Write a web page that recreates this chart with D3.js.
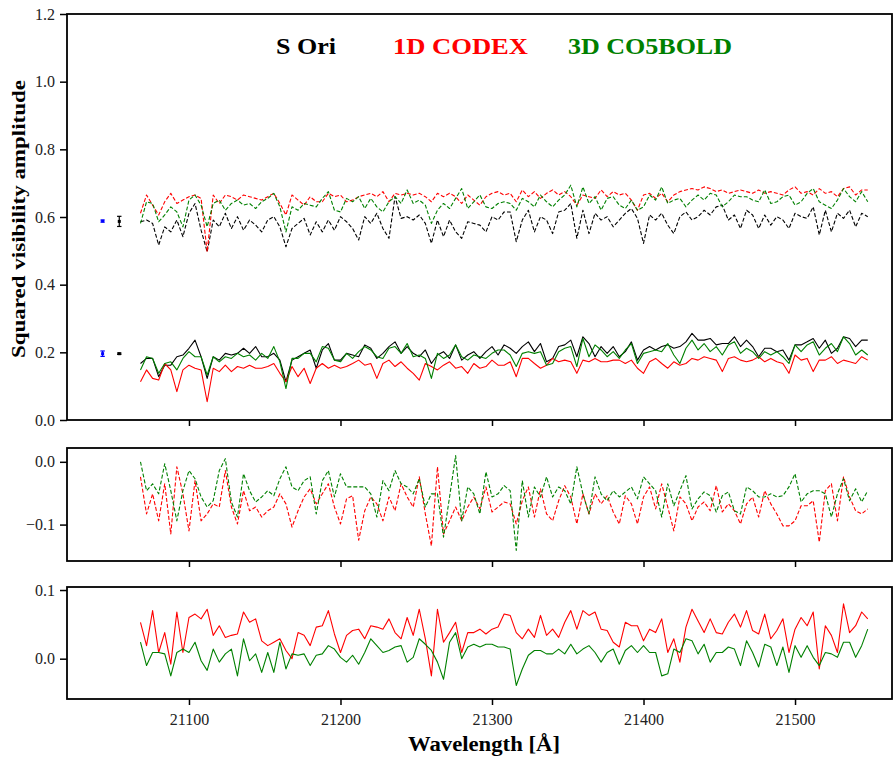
<!DOCTYPE html>
<html><head><meta charset="utf-8">
<script src="https://cdn.jsdelivr.net/npm/d3@7"></script>
<style>body{margin:0;background:#fff} svg{display:block} text{font-family:'Liberation Serif','DejaVu Serif',serif}</style>
</head><body>
<svg id="c" width="893" height="758"></svg>
<script>
// ---------- data ----------
const wavelengths = [21068,21072,21076,21080,21084,21088,21092,21096,21100,21104,
21108,21112,21116,21120,21124,21128,21132,21136,21140,21144,
21148,21152,21156,21160,21164,21168,21172,21176,21180,21184,
21188,21192,21196,21200,21204,21208,21212,21216,21220,21224,
21228,21232,21236,21240,21244,21248,21252,21256,21260,21264,
21268,21272,21276,21280,21284,21288,21292,21296,21300,21304,
21308,21312,21316,21320,21324,21328,21332,21336,21340,21344,
21348,21352,21356,21360,21364,21368,21372,21376,21380,21384,
21388,21392,21396,21400,21404,21408,21412,21416,21420,21424,
21428,21432,21436,21440,21444,21448,21452,21456,21460,21464,
21468,21472,21476,21480,21484,21488,21492,21496,21500,21504,
21508,21512,21516,21520,21524,21528,21532,21536,21540,21544,
21548];

// observed S Ori, long baseline (dashed) and short baseline (solid)
const obsHigh = [0.586,0.591,0.581,0.517,0.571,0.556,0.591,0.542,0.611,0.640,
0.561,0.497,0.591,0.571,0.611,0.566,0.601,0.561,0.591,0.576,
0.556,0.591,0.601,0.571,0.512,0.566,0.581,0.596,0.547,0.586,
0.556,0.591,0.561,0.601,0.586,0.566,0.532,0.601,0.581,0.611,
0.566,0.537,0.660,0.596,0.601,0.591,0.606,0.581,0.522,0.591,
0.542,0.591,0.556,0.537,0.586,0.581,0.576,0.556,0.601,0.591,
0.615,0.615,0.527,0.591,0.620,0.556,0.601,0.591,0.551,0.615,
0.620,0.640,0.537,0.620,0.551,0.611,0.591,0.601,0.571,0.591,
0.611,0.625,0.596,0.522,0.606,0.591,0.611,0.576,0.551,0.601,
0.615,0.591,0.601,0.620,0.606,0.630,0.635,0.591,0.606,0.566,
0.620,0.606,0.566,0.606,0.576,0.601,0.591,0.566,0.611,0.601,
0.596,0.630,0.547,0.620,0.556,0.611,0.596,0.620,0.571,0.611,
0.601];
const codexHigh = [0.611,0.665,0.635,0.606,0.645,0.670,0.640,0.650,0.660,0.665,
0.655,0.497,0.665,0.640,0.665,0.660,0.650,0.665,0.660,0.655,
0.650,0.660,0.670,0.640,0.606,0.665,0.650,0.635,0.660,0.645,
0.645,0.670,0.660,0.665,0.645,0.650,0.660,0.665,0.670,0.660,
0.675,0.645,0.670,0.665,0.670,0.665,0.670,0.660,0.645,0.670,
0.660,0.670,0.660,0.640,0.665,0.650,0.635,0.660,0.670,0.675,
0.665,0.670,0.645,0.680,0.660,0.675,0.655,0.670,0.680,0.665,
0.675,0.660,0.635,0.665,0.660,0.655,0.680,0.660,0.675,0.665,
0.670,0.650,0.620,0.665,0.670,0.655,0.670,0.645,0.665,0.675,
0.680,0.684,0.680,0.689,0.684,0.675,0.680,0.670,0.675,0.680,
0.675,0.670,0.680,0.670,0.675,0.670,0.665,0.680,0.689,0.670,
0.675,0.665,0.684,0.670,0.675,0.660,0.684,0.689,0.665,0.680,
0.680];
const co5boldHigh = [0.581,0.645,0.640,0.586,0.606,0.630,0.615,0.571,0.650,0.665,
0.635,0.571,0.640,0.650,0.620,0.640,0.650,0.635,0.640,0.625,
0.645,0.655,0.670,0.630,0.556,0.630,0.620,0.640,0.635,0.630,
0.655,0.675,0.620,0.615,0.655,0.645,0.660,0.625,0.655,0.630,
0.615,0.645,0.660,0.640,0.680,0.640,0.650,0.635,0.581,0.620,
0.640,0.625,0.655,0.684,0.625,0.645,0.665,0.630,0.625,0.640,
0.645,0.640,0.620,0.655,0.645,0.630,0.665,0.645,0.630,0.650,
0.665,0.694,0.630,0.689,0.640,0.660,0.620,0.655,0.660,0.635,
0.625,0.650,0.620,0.630,0.665,0.650,0.689,0.640,0.650,0.655,
0.630,0.650,0.665,0.650,0.670,0.665,0.630,0.645,0.665,0.660,
0.660,0.650,0.645,0.680,0.640,0.645,0.660,0.665,0.635,0.645,
0.670,0.684,0.645,0.635,0.625,0.650,0.684,0.660,0.645,0.675,
0.645];
const obsLow = [0.167,0.182,0.182,0.128,0.162,0.162,0.187,0.192,0.212,0.236,
0.187,0.123,0.187,0.177,0.197,0.192,0.197,0.212,0.197,0.217,
0.187,0.187,0.197,0.177,0.113,0.177,0.187,0.197,0.207,0.153,
0.207,0.226,0.177,0.177,0.197,0.192,0.187,0.222,0.212,0.182,
0.197,0.217,0.231,0.197,0.217,0.197,0.187,0.207,0.167,0.192,
0.202,0.182,0.222,0.177,0.192,0.202,0.182,0.202,0.217,0.192,
0.222,0.212,0.197,0.217,0.231,0.202,0.226,0.172,0.182,0.217,
0.222,0.236,0.187,0.246,0.226,0.187,0.217,0.197,0.217,0.187,
0.202,0.231,0.177,0.207,0.217,0.207,0.217,0.222,0.212,0.217,
0.231,0.256,0.236,0.236,0.241,0.222,0.226,0.226,0.246,0.217,
0.236,0.217,0.187,0.212,0.212,0.202,0.207,0.177,0.222,0.222,
0.231,0.241,0.212,0.236,0.197,0.212,0.246,0.241,0.217,0.236,
0.236];
const codexLow = [0.113,0.148,0.123,0.118,0.167,0.148,0.084,0.148,0.162,0.153,
0.148,0.054,0.153,0.143,0.162,0.143,0.158,0.153,0.162,0.153,
0.153,0.158,0.167,0.138,0.113,0.158,0.128,0.153,0.108,0.153,
0.167,0.153,0.162,0.153,0.158,0.167,0.177,0.162,0.167,0.123,
0.167,0.177,0.158,0.172,0.153,0.138,0.118,0.167,0.158,0.148,
0.162,0.172,0.153,0.158,0.138,0.167,0.153,0.158,0.177,0.162,
0.162,0.172,0.128,0.182,0.182,0.167,0.153,0.162,0.182,0.172,
0.177,0.172,0.138,0.177,0.172,0.182,0.172,0.172,0.177,0.177,
0.167,0.177,0.153,0.138,0.172,0.182,0.167,0.153,0.172,0.162,
0.167,0.182,0.177,0.187,0.182,0.177,0.143,0.182,0.187,0.177,
0.172,0.177,0.187,0.172,0.182,0.172,0.167,0.138,0.192,0.177,
0.182,0.143,0.177,0.177,0.187,0.167,0.177,0.172,0.167,0.187,
0.177];
const co5boldLow = [0.148,0.187,0.182,0.138,0.167,0.172,0.148,0.182,0.202,0.187,
0.187,0.133,0.187,0.172,0.187,0.182,0.197,0.187,0.192,0.177,
0.197,0.182,0.217,0.172,0.093,0.182,0.182,0.197,0.197,0.172,
0.217,0.212,0.177,0.172,0.197,0.182,0.202,0.217,0.207,0.187,
0.182,0.212,0.217,0.197,0.226,0.187,0.192,0.182,0.123,0.197,
0.182,0.192,0.222,0.187,0.177,0.192,0.187,0.182,0.197,0.207,
0.207,0.192,0.158,0.197,0.202,0.197,0.202,0.162,0.167,0.202,
0.212,0.217,0.158,0.241,0.187,0.222,0.207,0.187,0.202,0.182,
0.207,0.226,0.167,0.197,0.202,0.207,0.202,0.226,0.192,0.167,
0.212,0.236,0.207,0.226,0.202,0.217,0.192,0.222,0.231,0.197,
0.212,0.202,0.182,0.202,0.192,0.202,0.187,0.167,0.222,0.202,
0.222,0.231,0.192,0.212,0.226,0.202,0.246,0.226,0.192,0.207,
0.192];
// residuals, long baseline (middle panel)
const codexResHigh = [-0.024,-0.083,-0.051,-0.094,-0.035,-0.115,-0.008,-0.051,-0.110,-0.030,
-0.094,-0.083,-0.067,-0.072,-0.014,-0.072,-0.099,-0.046,-0.078,-0.072,
-0.088,-0.078,-0.072,-0.051,-0.067,-0.104,-0.078,-0.056,-0.043,-0.067,
-0.051,-0.035,-0.072,-0.099,-0.059,-0.054,-0.125,-0.078,-0.056,-0.067,
-0.094,-0.056,-0.078,-0.035,-0.056,-0.072,-0.024,-0.083,-0.134,-0.008,
-0.115,-0.094,-0.072,-0.094,-0.072,-0.056,-0.075,-0.040,-0.080,-0.072,
-0.064,-0.067,-0.099,-0.062,-0.040,-0.088,-0.043,-0.083,-0.094,-0.062,
-0.038,-0.056,-0.099,-0.051,-0.083,-0.051,-0.067,-0.054,-0.080,-0.099,
-0.054,-0.067,-0.099,-0.056,-0.040,-0.075,-0.035,-0.072,-0.110,-0.056,
-0.067,-0.094,-0.072,-0.064,-0.078,-0.038,-0.080,-0.067,-0.078,-0.099,
-0.067,-0.056,-0.088,-0.046,-0.067,-0.083,-0.102,-0.102,-0.094,-0.070,
-0.070,-0.062,-0.128,-0.046,-0.035,-0.094,-0.024,-0.056,-0.078,-0.083,
-0.075];
const co5boldResHigh = [0.000,-0.046,-0.035,-0.051,-0.003,-0.046,-0.094,-0.046,-0.014,-0.027,
-0.056,-0.072,-0.062,-0.014,0.005,-0.064,-0.088,-0.019,-0.046,-0.064,
-0.056,-0.046,-0.054,-0.027,-0.008,-0.040,-0.046,-0.030,-0.024,-0.083,
-0.030,-0.014,-0.056,-0.019,-0.040,-0.040,-0.040,-0.040,-0.051,-0.088,
-0.030,-0.046,-0.014,-0.035,-0.040,-0.051,-0.027,-0.072,-0.051,-0.051,
-0.120,-0.056,0.010,-0.094,-0.040,-0.051,-0.083,-0.016,-0.056,-0.051,
-0.038,-0.046,-0.141,-0.030,-0.088,-0.040,-0.056,-0.024,-0.056,-0.040,
-0.046,-0.067,-0.008,-0.051,-0.083,-0.024,-0.051,-0.062,-0.046,-0.056,
-0.048,-0.040,-0.059,-0.024,-0.035,-0.046,-0.088,-0.035,-0.070,-0.046,
-0.022,-0.075,-0.059,-0.048,-0.054,-0.080,-0.054,-0.048,-0.078,-0.083,
-0.040,-0.046,-0.056,-0.056,-0.051,-0.056,-0.054,-0.040,-0.019,-0.064,
-0.051,-0.046,-0.046,-0.051,-0.088,-0.051,-0.027,-0.062,-0.043,-0.064,
-0.046];
// residuals, short baseline (bottom panel)
const codexResLow = [0.053,0.019,0.070,0.009,0.038,-0.008,0.068,0.009,0.060,0.065,
0.058,0.072,0.034,0.048,0.031,0.034,0.036,0.068,0.053,0.058,
0.026,0.019,0.024,0.029,0.012,0.000,0.038,0.034,0.019,0.046,
0.048,0.070,0.036,0.009,0.034,0.041,0.043,0.029,0.048,0.046,
0.043,0.058,0.038,0.029,0.060,0.034,0.072,0.029,-0.025,0.072,
0.024,0.038,0.053,0.009,0.038,0.038,0.043,0.036,0.043,0.046,
0.065,0.063,0.038,0.029,0.043,0.031,0.063,0.034,0.043,0.031,
0.053,0.070,0.043,0.070,0.063,0.068,0.043,0.041,0.024,0.017,
0.053,0.048,0.048,0.026,0.043,0.038,0.058,0.009,0.029,-0.005,
0.046,0.072,0.055,0.038,0.058,0.038,0.036,0.053,0.065,0.046,
0.070,0.041,0.036,0.065,0.029,0.041,0.058,0.009,0.043,0.060,
0.048,0.068,-0.015,0.048,0.034,0.009,0.080,0.038,0.048,0.068,
0.058];
const co5boldResLow = [0.024,-0.010,0.009,0.009,0.007,-0.025,0.009,0.014,0.009,0.024,
-0.003,-0.017,0.014,-0.005,0.007,0.014,-0.025,0.029,-0.003,0.007,
-0.020,0.009,-0.020,0.024,-0.015,0.007,0.005,0.007,-0.010,0.005,
0.007,0.019,0.014,0.002,-0.005,0.005,-0.008,0.009,0.029,0.019,
0.009,0.012,0.017,0.019,-0.005,0.002,0.029,0.021,0.012,-0.005,
-0.030,0.024,0.038,0.000,0.017,0.021,0.017,0.021,0.021,0.017,
0.017,0.014,-0.039,-0.015,0.005,0.012,0.012,0.007,0.007,0.014,
0.007,0.021,0.007,0.014,0.019,0.009,-0.005,0.009,0.014,-0.008,
0.012,0.019,0.009,0.019,0.009,0.009,-0.025,-0.022,0.014,0.009,
0.029,0.026,0.007,0.021,-0.005,0.009,0.009,0.017,0.014,-0.010,
0.026,0.009,-0.012,0.021,0.017,-0.010,0.017,-0.020,0.019,0.002,
0.019,0.002,-0.010,0.009,0.007,0.002,0.024,0.024,0.002,0.019,
0.043];

// representative error bars (left of data)
const errWave = [21043, 21054];
const errHighVal = [0.588, 0.587];
const errHighErr = [0.003, 0.015];
const errLowVal = [0.196, 0.196];
const errLowErr = [0.008, 0.002];

const xTicks = [21100, 21200, 21300, 21400, 21500];
const topTicks = [0, 0.2, 0.4, 0.6, 0.8, 1.0, 1.2];
const midTicks = [-0.1, 0.0];
const botTicks = [0.0, 0.1];
const legendLabels = ["S Ori", "1D CODEX", "3D CO5BOLD"];

// ---------- drawing ----------
const svg = d3.select("#c");
const FONT = "Liberation Serif";
const L = 67, R = 892;
const x = d3.scaleLinear().domain([21019.5, 21564]).range([L, R]);

const panels = [
  {top: 14, bottom: 420, domain: [0, 1.2], ticks: topTicks, xlabels: false},
  {top: 448, bottom: 561, domain: [-0.158, 0.022], ticks: midTicks, xlabels: false},
  {top: 587, bottom: 699, domain: [-0.0587, 0.1044], ticks: botTicks, xlabels: true}
];
panels.forEach((p, k) => {
  p.y = d3.scaleLinear().domain(p.domain).range([p.bottom, p.top]);
  svg.append("clipPath").attr("id", "clip" + k).append("rect")
    .attr("x", L).attr("y", p.top).attr("width", R - L).attr("height", p.bottom - p.top);
  p.g = svg.append("g");
  p.plot = p.g.append("g").attr("clip-path", `url(#clip${k})`);
});

const fmt = d3.format(".1f");
function styleAxis(g) {
  g.attr("font-family", FONT).attr("font-size", 16);
  g.select(".domain").remove();
  g.selectAll(".tick line").attr("stroke", "#000").attr("stroke-width", 1.5);
  g.selectAll(".tick text").attr("fill", "#222").attr("font-family", FONT).attr("font-size", 16);
}

function line(p, data, color, dashed, width) {
  const gen = d3.line().x((d, i) => x(wavelengths[i])).y(d => p.y(d));
  p.plot.append("path").datum(data).attr("d", gen)
    .attr("fill", "none").attr("stroke", color)
    .attr("stroke-width", width)
    .attr("stroke-linejoin", "round")
    .attr("stroke-dasharray", dashed ? "4,2" : null);
}

const [P0, P1, P2] = panels;
// top panel
line(P0, obsHigh, "#000", true, 1.1);
line(P0, codexHigh, "#ff0000", true, 1.1);
line(P0, co5boldHigh, "#008000", true, 1.1);
line(P0, obsLow, "#000", false, 1.1);
line(P0, codexLow, "#ff0000", false, 1.1);
line(P0, co5boldLow, "#008000", false, 1.1);
// middle
line(P1, codexResHigh, "#ff0000", true, 1.1);
line(P1, co5boldResHigh, "#008000", true, 1.1);
// bottom
line(P2, codexResLow, "#ff0000", false, 1.1);
line(P2, co5boldResLow, "#008000", false, 1.1);

// error bars
const ebColors = ["#0000ff", "#000"];
function errorbars(vals, errs) {
  errWave.forEach((w, i) => {
    const cx = x(w), c = ebColors[i];
    const y0 = P0.y(vals[i] - errs[i]), y1 = P0.y(vals[i] + errs[i]);
    P0.g.append("line").attr("x1", cx).attr("x2", cx).attr("y1", y0).attr("y2", y1)
      .attr("stroke", c).attr("stroke-width", 1.2);
    [y0, y1].forEach(yy => P0.g.append("line").attr("x1", cx - 2.2).attr("x2", cx + 2.2)
      .attr("y1", yy).attr("y2", yy).attr("stroke", c).attr("stroke-width", 1.2));
    P0.g.append("rect").attr("x", cx - 1.5).attr("y", P0.y(vals[i]) - 1.5)
      .attr("width", 3).attr("height", 3).attr("fill", c);
  });
}
errorbars(errHighVal, errHighErr);
errorbars(errLowVal, errLowErr);

// axes and frames
panels.forEach(p => {
  const ya = p.g.append("g").attr("transform", `translate(${L},0)`)
    .call(d3.axisLeft(p.y).tickValues(p.ticks).tickFormat(fmt).tickSize(7).tickPadding(5));
  styleAxis(ya);
  const xa = p.g.append("g").attr("transform", `translate(0,${p.bottom})`)
    .call(d3.axisBottom(x).tickValues(xTicks).tickFormat(p.xlabels ? d3.format("d") : "").tickSize(6).tickPadding(9));
  styleAxis(xa);
  p.g.append("rect").attr("x", L).attr("y", p.top).attr("width", R - L).attr("height", p.bottom - p.top)
    .attr("fill", "none").attr("stroke", "#000").attr("stroke-width", 1.8);
});

// legend text
const legendColors = ["#000", "#ff0000", "#008000"];
const legendX = [276, 393, 568];
const legendW = [60, 135, 164];
legendLabels.forEach((t, i) => {
  svg.append("text").attr("x", legendX[i]).attr("y", 54).text(t)
    .attr("fill", legendColors[i]).attr("font-family", FONT).attr("font-weight", "bold").attr("font-size", 24)
    .attr("textLength", legendW[i]).attr("lengthAdjust", "spacingAndGlyphs");
});

// axis labels
svg.append("text").attr("transform", "translate(25,219) rotate(-90)")
  .attr("text-anchor", "middle").text("Squared visibility amplitude")
  .attr("font-family", FONT).attr("font-weight", "bold").attr("font-size", 19)
  .attr("textLength", 278).attr("lengthAdjust", "spacingAndGlyphs");
svg.append("text").attr("x", 484).attr("y", 751)
  .attr("text-anchor", "middle").text("Wavelength [Å]")
  .attr("font-family", FONT).attr("font-weight", "bold").attr("font-size", 20)
  .attr("textLength", 152).attr("lengthAdjust", "spacingAndGlyphs");
</script>
</body></html>
